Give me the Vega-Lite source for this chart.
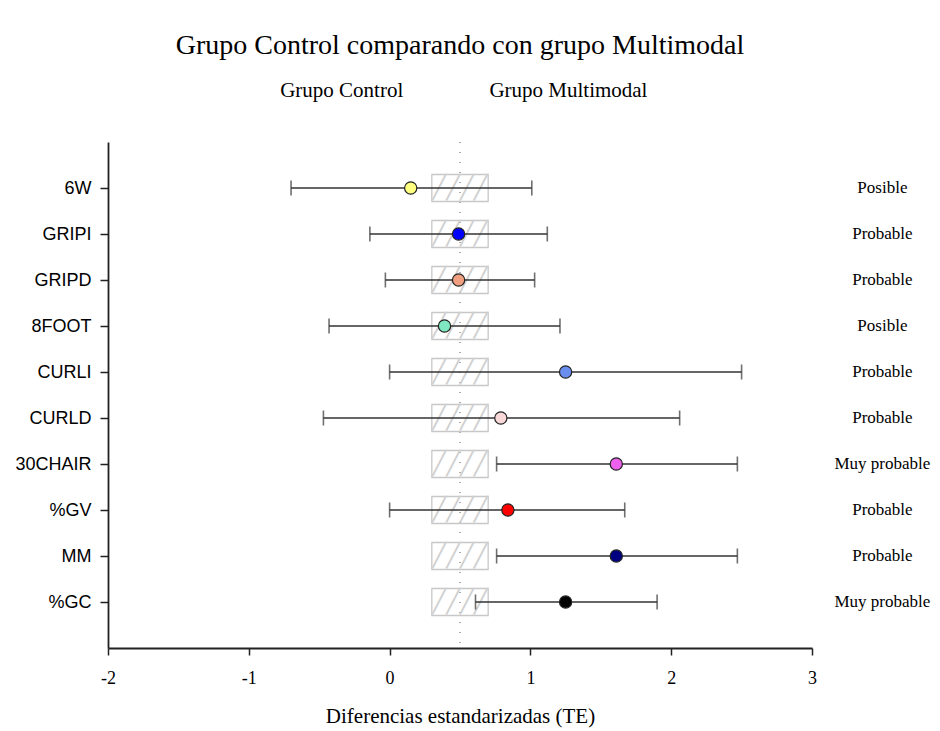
{
  "$schema": "https://vega.github.io/schema/vega-lite/v6.json",
  "width": 704,
  "height": 506,
  "autosize": "none",
  "padding": {"left": 108, "top": 142, "right": 128, "bottom": 83},
  "background": "white",
  "title": {
    "text": "Grupo Control comparando con grupo Multimodal",
    "font": "Liberation Serif",
    "fontSize": 28,
    "fontWeight": "normal",
    "color": "#000000",
    "anchor": "middle",
    "offset": 20
  },
  "config": {
    "view": {"stroke": null},
    "axis": {"grid": false}
  },
  "data": {
    "values": [
      {"var": "6W", "lo": -0.70, "est": 0.15, "hi": 1.01, "prob": "Posible"},
      {"var": "GRIPI", "lo": -0.14, "est": 0.49, "hi": 1.12, "prob": "Probable"},
      {"var": "GRIPD", "lo": -0.03, "est": 0.49, "hi": 1.03, "prob": "Probable"},
      {"var": "8FOOT", "lo": -0.43, "est": 0.39, "hi": 1.21, "prob": "Posible"},
      {"var": "CURLI", "lo": 0.0, "est": 1.25, "hi": 2.50, "prob": "Probable"},
      {"var": "CURLD", "lo": -0.47, "est": 0.79, "hi": 2.06, "prob": "Probable"},
      {"var": "30CHAIR", "lo": 0.76, "est": 1.61, "hi": 2.47, "prob": "Muy probable"},
      {"var": "%GV", "lo": 0.0, "est": 0.84, "hi": 1.67, "prob": "Probable"},
      {"var": "MM", "lo": 0.76, "est": 1.61, "hi": 2.47, "prob": "Probable"},
      {"var": "%GC", "lo": 0.61, "est": 1.25, "hi": 1.90, "prob": "Muy probable"}
    ]
  },
  "encoding": {
    "y": {
      "field": "var",
      "type": "nominal",
      "scale": {
        "type": "point",
        "padding": 1,
        "domain": ["6W", "GRIPI", "GRIPD", "8FOOT", "CURLI", "CURLD", "30CHAIR", "%GV", "MM", "%GC"]
      },
      "axis": {
        "title": null,
        "labelFont": "Liberation Sans",
        "labelFontSize": 18,
        "labelColor": "#000000",
        "tickSize": 8,
        "tickColor": "#222222",
        "tickWidth": 1.5,
        "labelPadding": 9,
        "domainColor": "#222222",
        "domainWidth": 1.8
      }
    }
  },
  "layer": [
    {
      "mark": {"type": "rule", "strokeDash": [1, 9], "color": "#aaaaaa", "strokeWidth": 1},
      "encoding": {
        "y": null,
        "x": {
          "datum": 0.5,
          "type": "quantitative",
          "scale": {"domain": [-2, 3], "nice": false, "zero": false},
          "axis": {
            "title": "Diferencias estandarizadas (TE)",
            "values": [-2, -1, 0, 1, 2, 3],
            "labelExpr": "'' + datum.value",
            "labelFlush": false,
            "labelFont": "Liberation Serif",
            "labelFontSize": 18,
            "labelColor": "#000000",
            "titleFont": "Liberation Serif",
            "titleFontSize": 21,
            "titleFontWeight": "normal",
            "titleColor": "#000000",
            "titlePadding": 18,
            "tickSize": 7,
            "tickColor": "#222222",
            "tickWidth": 1.5,
            "labelPadding": 14,
            "domainColor": "#222222",
            "domainWidth": 1.8
          }
        }
      }
    },
    {
      "mark": {"type": "bar", "size": 27, "fill": "transparent", "stroke": "#c8c8c8", "strokeWidth": 1.3},
      "encoding": {
        "x": {"datum": 0.3, "type": "quantitative"},
        "x2": {"datum": 0.7}
      }
    },
    {
      "mark": {"type": "text", "text": "╱╱╱╱", "font": "DejaVu Sans Mono", "fontSize": 23, "color": "#d0d0d0", "align": "center", "baseline": "middle"},
      "encoding": {
        "x": {"datum": 0.5, "type": "quantitative"}
      }
    },
    {
      "mark": {"type": "rule", "color": "#333333", "strokeWidth": 1.6},
      "encoding": {
        "x": {"field": "lo", "type": "quantitative"},
        "x2": {"field": "hi"}
      }
    },
    {
      "mark": {"type": "tick", "orient": "vertical", "size": 15, "thickness": 1.6, "color": "#333333"},
      "encoding": {
        "x": {"field": "lo", "type": "quantitative"}
      }
    },
    {
      "mark": {"type": "tick", "orient": "vertical", "size": 15, "thickness": 1.6, "color": "#333333"},
      "encoding": {
        "x": {"field": "hi", "type": "quantitative"}
      }
    },
    {
      "mark": {"type": "point", "shape": "circle", "filled": true, "size": 150, "stroke": "#222222", "strokeWidth": 1.2, "opacity": 1},
      "encoding": {
        "x": {"field": "est", "type": "quantitative"},
        "fill": {
          "field": "var",
          "type": "nominal",
          "legend": null,
          "scale": {
            "domain": ["6W", "GRIPI", "GRIPD", "8FOOT", "CURLI", "CURLD", "30CHAIR", "%GV", "MM", "%GC"],
            "range": ["#FFFF80", "#0000FF", "#F0A080", "#80E8C0", "#6A8EF0", "#F8D8D8", "#EE60EE", "#FF0000", "#000080", "#000000"]
          }
        }
      }
    },
    {
      "mark": {"type": "text", "font": "Liberation Serif", "fontSize": 17, "color": "#000000", "align": "center", "baseline": "middle"},
      "encoding": {
        "x": {"datum": 3.5, "type": "quantitative"},
        "text": {"field": "prob"}
      }
    },
    {
      "data": {"values": [{"label": "Grupo Control"}]},
      "mark": {"type": "text", "font": "Liberation Serif", "fontSize": 21, "color": "#000000", "align": "center", "baseline": "middle", "dy": -97},
      "encoding": {
        "x": {"datum": -0.34, "type": "quantitative"},
        "y": {"datum": "6W", "type": "nominal"},
        "text": {"field": "label"}
      }
    },
    {
      "data": {"values": [{"label": "Grupo Multimodal"}]},
      "mark": {"type": "text", "font": "Liberation Serif", "fontSize": 21, "color": "#000000", "align": "center", "baseline": "middle", "dy": -97},
      "encoding": {
        "x": {"datum": 1.27, "type": "quantitative"},
        "y": {"datum": "6W", "type": "nominal"},
        "text": {"field": "label"}
      }
    }
  ]
}
